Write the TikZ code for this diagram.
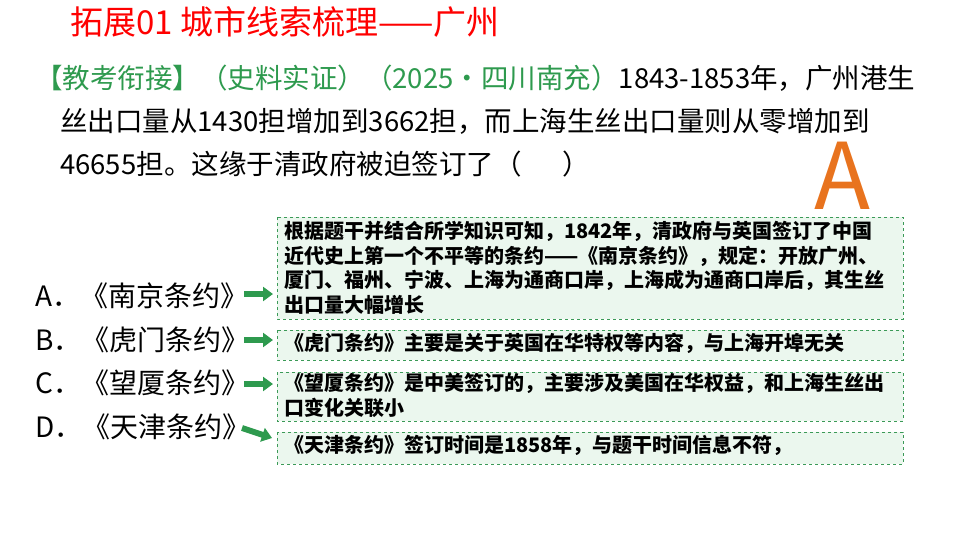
\documentclass[tikz,border=0pt]{standalone}
\usepackage{fontspec}
\setmainfont{Noto Sans CJK SC}
\XeTeXlinebreaklocale "zh"
\XeTeXlinebreakskip=0pt plus 1pt
\usetikzlibrary{arrows.meta}
\definecolor{tgreen}{HTML}{2E9A4E}
\definecolor{bfill}{HTML}{EBF7EE}
\definecolor{bline}{HTML}{3B9A57}
\definecolor{aorange}{HTML}{E8731E}
\tikzset{
  box/.style={draw=bline, dashed, fill=bfill, line width=0.8pt},
  btext/.style={anchor=north west, align=left, font=\fontsize{20}{24.5}\selectfont\bfseries, inner sep=0pt},
  q/.style={anchor=west, font=\fontsize{27.5}{30}\selectfont, inner sep=0pt},
  opt/.style={anchor=west, font=\fontsize{28}{30}\selectfont, inner sep=0pt},
  garrow/.style={-{Triangle[length=10pt,width=14pt]}, line width=6pt, draw=tgreen}
}
\begin{document}
\begin{tikzpicture}[x=1pt,y=-1pt]
\useasboundingbox (0,0) rectangle (960,540);
\node[anchor=west, text=red, font=\fontsize{33}{36}\selectfont, inner sep=0pt] (title) at (70,22) {拓展01 城市线索梳理——广州};
\node[q] (l1) at (35,78) {\textcolor{tgreen}{【教考衔接】（史料实证）（2025·四川南充）}1843-1853年，广州港生};
\node[q] (l2) at (60,121) {丝出口量从1430担增加到3662担，而上海生丝出口量则从零增加到};
\node[q] (l3) at (60,164) {46655担。这缘于清政府被迫签订了（\hspace{1.5em}）};
\node[text=aorange, font=\fontsize{92}{94}\selectfont, inner sep=0pt] (ans) at (842,176) {A};
\node[opt] (oa) at (35,296) {A．《南京条约》};
\node[opt] (ob) at (35,340) {B．《虎门条约》};
\node[opt] (oc) at (35,383) {C．《望厦条约》};
\node[opt] (od) at (35,427) {D．《天津条约》};
\path[box] (277,217) rectangle (903,319);
\path[box] (277,330) rectangle (903,360);
\path[box] (277,372) rectangle (903,421);
\path[box] (277,432) rectangle (903,464);
\node[btext] (b1) at (284,221) {根据题干并结合所学知识可知，1842年，清政府与英国签订了中国\\近代史上第一个不平等的条约——《南京条约》，规定：开放广州、\\厦门、福州、宁波、上海为通商口岸，上海成为通商口岸后，其生丝\\出口量大幅增长};
\node[btext] (b2) at (284,333) {《虎门条约》主要是关于英国在华特权等内容，与上海开埠无关};
\node[btext] (b3) at (284,373) {《望厦条约》是中美签订的，主要涉及美国在华权益，和上海生丝出\\口变化关联小};
\node[btext] (b4) at (284,435) {《天津条约》签订时间是1858年，与题干时间信息不符，};
\coordinate (a1s) at (244,294); \coordinate (a1e) at (273,294);
\coordinate (a2s) at (244,340); \coordinate (a2e) at (273,340);
\coordinate (a3s) at (244,384); \coordinate (a3e) at (273,384);
\coordinate (a4s) at (242,428); \coordinate (a4e) at (272,438);
\draw[garrow] (a1s) -- (a1e);
\draw[garrow] (a2s) -- (a2e);
\draw[garrow] (a3s) -- (a3e);
\draw[garrow] (a4s) -- (a4e);
\end{tikzpicture}
\end{document}
